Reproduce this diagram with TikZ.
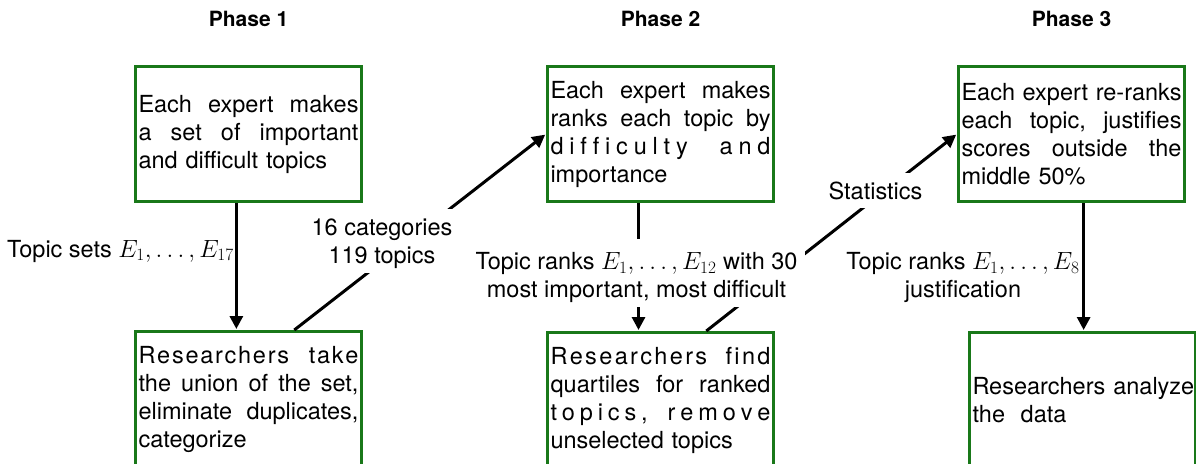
\documentclass[tikz,border=0pt]{standalone}
\usepackage{fontspec}
\setmainfont{TeX Gyre Heros}
\usetikzlibrary{arrows.meta,calc}
\definecolor{boxgreen}{RGB}{25,120,25}
\newcommand{\jline}[1]{\leavevmode\hbox to 220pt{#1}}
\begin{document}
\begin{tikzpicture}[x=1pt,y=-1pt,
  box/.style={draw=boxgreen, line width=3pt, minimum width=226pt, minimum height=135pt,
    inner sep=0pt, anchor=north west, font=\fontsize{23.5}{28}\selectfont, align=left, text width=220pt},
  conn/.style={line width=3pt, -{Triangle[length=13pt,width=13pt]}, shorten >=1pt},
  lbl/.style={fill=white, inner xsep=8pt, inner ysep=0pt, font=\fontsize{23.5}{28}\selectfont, align=center},
  plainlbl/.style={inner sep=0pt, font=\fontsize{23.5}{28}\selectfont, align=center},
  phase/.style={font=\fontsize{21}{24}\selectfont\bfseries, anchor=base, inner sep=0pt}]
\useasboundingbox (0,0) rectangle (1196,463);

% boxes
\node[box] (b1) at (134,65) {\jline{Each\hfill expert\hfill makes}\\\jline{a\hfill set\hfill of\hfill important}\\and difficult topics};
\node[box] (b2) at (134,330) {\jline{R\hfill e\hfill s\hfill e\hfill a\hfill r\hfill c\hfill h\hfill e\hfill r\hfill s\hspace{18pt}\hfill t\hfill a\hfill k\hfill e}\\\jline{the\hfill union\hfill of\hfill the\hfill set,}\\\jline{eliminate\hfill duplicates,}\\categorize};
\node[box] (b3) at (546,65) {\jline{Each\hfill expert\hfill makes}\\\jline{ranks\hfill each\hfill topic\hfill by}\\\jline{d\hfill i\hfill f\hfill f\hfill i\hfill c\hfill u\hfill l\hfill t\hfill y\hspace{26pt}\hfill a\hfill n\hfill d}\\importance};
\node[box] (b4) at (546,331) {\jline{R\hfill e\hfill s\hfill e\hfill a\hfill r\hfill c\hfill h\hfill e\hfill r\hfill s\hspace{16pt}\hfill f\hfill i\hfill n\hfill d}\\\jline{quartiles\hfill for\hfill ranked}\\\jline{t\hfill o\hfill p\hfill i\hfill c\hfill s\hfill ,\hspace{15pt}\hfill r\hfill e\hfill m\hfill o\hfill v\hfill e}\\unselected topics};
\node[box] (b5) at (957,65) {\jline{Each\hfill expert\hfill re-ranks}\\\jline{each\hfill topic,\hfill justifies}\\\jline{scores\hfill outside\hfill the}\\middle 50\%};
\node[box] (b6) at (968,331) {\mbox{Researchers analyze}\\the\ \ data};

% phase titles
\node[phase] (ph1) at ($(b1.north)+(0,-38)$) {Phase 1};
\node[phase] (ph2) at ($(b3.north)+(0,-38)$) {Phase 2};
\node[phase] (ph3) at ($(b5.north)+(0,-38)$) {Phase 3};

% connectors
\coordinate (p1) at ($(b1.south west)!0.447!(b1.south east)$);
\coordinate (p3) at ($(b3.south west)!0.404!(b3.south east)$);
\coordinate (p5) at ($(b5.south west)!0.553!(b5.south east)$);
\coordinate (q2) at ($(b2.north west)!0.7!(b2.north east)$);
\coordinate (q4) at ($(b4.north west)!0.7!(b4.north east)$);
\draw[conn] (p1) -- (p1 |- b2.north);
\draw[conn] (q2) -- (b3.west);
\draw[conn] (p3) -- (p3 |- b4.north);
\draw[conn] (q4) -- (b5.west);
\draw[conn] (p5) -- (p5 |- b6.north);

% labels
\node[plainlbl, anchor=base east] (l1) at (234,257) {Topic sets $E_1, \ldots, E_{17}$};
\node[lbl] (l2) at (382,240.5) {\rule{0pt}{27pt}16 categories\\\rule[-9pt]{0pt}{18pt}119 topics};
\node[lbl] (l3) at (636.5,272.5) {\rule{0pt}{31pt}Topic ranks $E_1, \ldots, E_{12}$ with 30\\\rule[-9pt]{0pt}{18pt}most important, most difficult};
\node[lbl, inner xsep=0pt, anchor=base, text height=26pt, text depth=9pt] (l5) at (875.5,199) {Statistics};
\node[plainlbl] (l4) at (963,274.5) {\rule{0pt}{27pt}Topic ranks $E_1, \ldots, E_{8}$\\\rule[-9pt]{0pt}{18pt}justification};
\end{tikzpicture}
\end{document}
